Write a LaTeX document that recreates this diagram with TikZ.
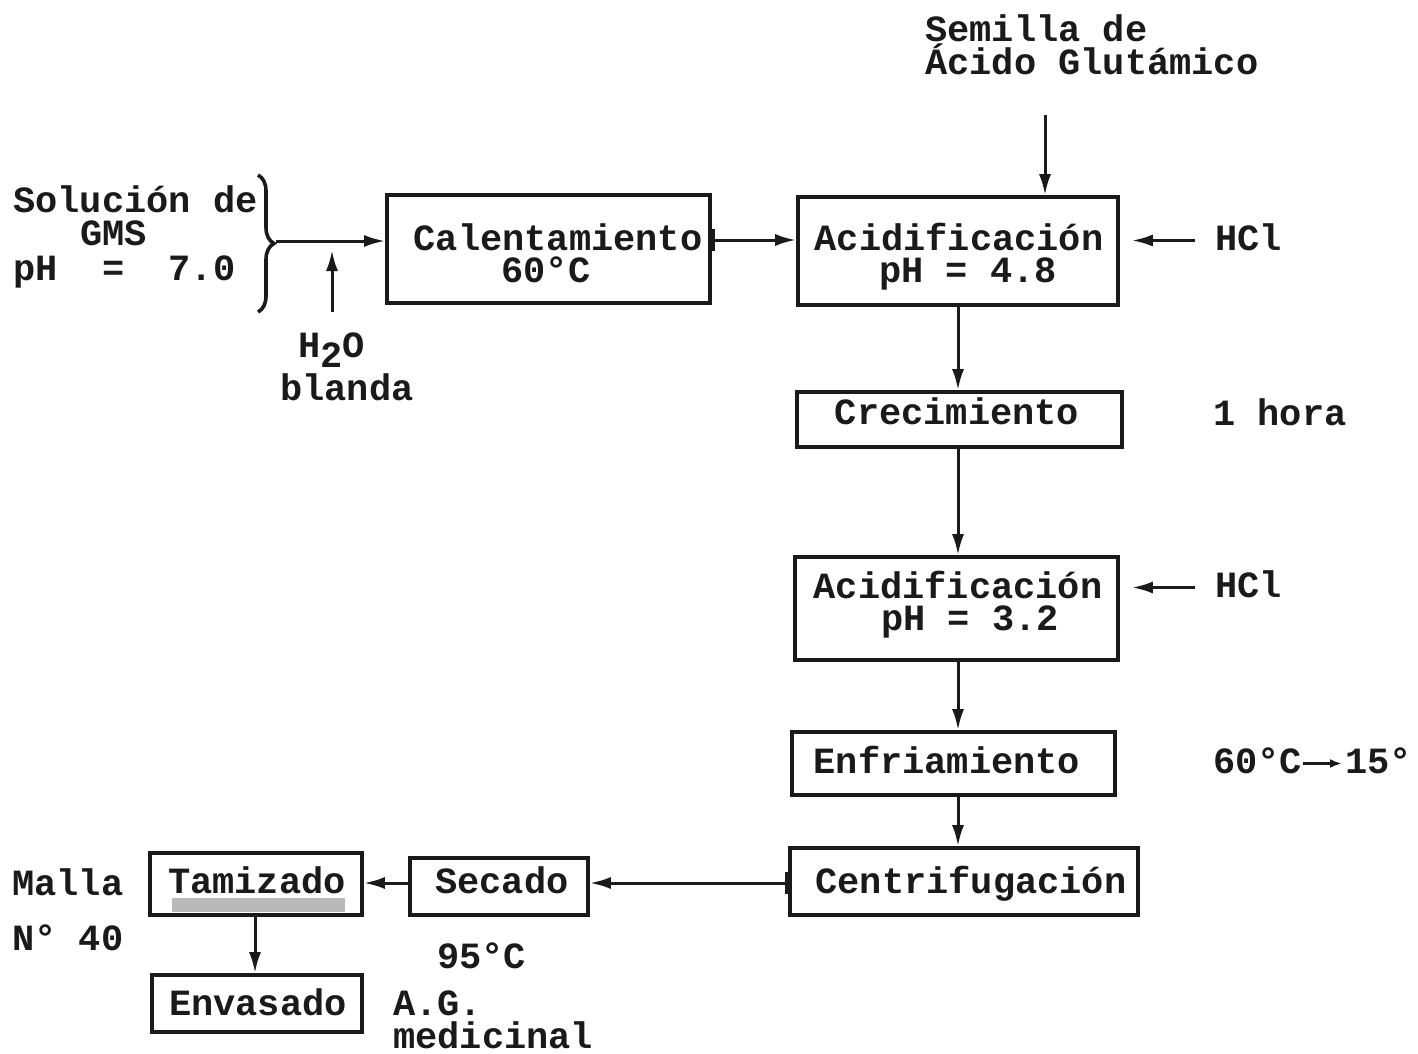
\documentclass[tikz,border=0pt]{standalone}
\usepackage{fontspec}
\setmainfont{Liberation Mono}
\usetikzlibrary{arrows.meta,decorations.pathreplacing}
\definecolor{ink}{HTML}{1A1A1A}
\newcommand\typed{\fontsize{37}{32}\selectfont\bfseries}
\begin{document}
\begin{tikzpicture}[x=1pt,y=-1pt,
  every node/.style={inner sep=0pt, text=ink, font=\typed},
  box/.style={draw=ink, line width=3.6pt},
  txt/.style={anchor=base, text height=24pt, text depth=5pt},
  lft/.style={anchor=base west, text height=24pt, text depth=5pt},
  flow/.style={draw=ink, line width=3pt, -{Latex[length=21pt,width=12pt]}},
  tickflow/.style={draw=ink, line width=3pt, {Bar[width=22pt,line width=3pt]}-{Latex[length=21pt,width=12pt]}},
  smallflow/.style={draw=ink, line width=2.6pt, -{Latex[length=12pt,width=9pt]}},
]
\fill[white] (0,0) rectangle (1418,1054);
\useasboundingbox (0,0) rectangle (1418,1054);

% process boxes
\node[box, minimum width=323pt, minimum height=108pt] (cal) at (548.5,249) {};
\node[box, minimum width=320pt, minimum height=108pt] (ac1) at (958,251) {};
\node[box, minimum width=325pt, minimum height=55pt] (cre) at (959.5,419.5) {};
\node[box, minimum width=323pt, minimum height=103pt] (ac2) at (956.5,608.5) {};
\node[box, minimum width=323pt, minimum height=63pt] (enf) at (953.5,763.5) {};
\node[box, minimum width=348pt, minimum height=67pt] (cen) at (964,881.5) {};
\node[box, minimum width=178pt, minimum height=57pt] (sec) at (499,886.5) {};
\node[box, minimum width=212pt, minimum height=62pt] (tam) at (256,884) {};
\node[box, minimum width=210pt, minimum height=57pt] (env) at (257,1003.5) {};

% grey correction strip under the sieving label
\fill[gray!55] (172,898) rectangle (345,912);

% box texts
\node[txt] (cal1) at (558,250) {Calentamiento};
\node[txt] (cal2) at (546,282) {60°C};
\node[txt] (ac11) at (959,250) {Acidificación};
\node[txt] (ac12) at (968,282) {pH = 4.8};
\node[txt] (cre1) at (957,424) {Crecimiento};
\node[txt] (ac21) at (958,598) {Acidificación};
\node[txt] (ac22) at (970,630) {pH = 3.2};
\node[txt] (enf1) at (947,773) {Enfriamiento};
\node[txt] (cen1) at (971,893) {Centrifugación};
\node[txt] (sec1) at (502,893) {Secado};
\node[txt] (tam1) at (257,893) {Tamizado};
\node[txt] (env1) at (258,1015) {Envasado};

% side labels
\node[lft] (sem1) at (925,42) {Semilla de};
\node[lft] (sem2) at (925,75) {Ácido Glutámico};
\node[lft] (sol1) at (13,212) {Solución de};
\node[lft] (sol2) at (80,245) {GMS};
\node[lft] (sol3) at (13,280) {pH\ \ =\ \ 7.0};
\node[lft] (agua1) at (298,357) {H\raisebox{-10pt}{2}O};
\node[lft] (agua2) at (280,400) {blanda};
\node[lft] (hcl1) at (1215,250) {HCl};
\node[lft] (hcl2) at (1215,597) {HCl};
\node[lft] (hora) at (1213,425) {1 hora};
\node[lft] (t60) at (1213,773) {60°C};
\node[lft] (t15) at (1345,773) {15°};
\node[lft] (malla) at (12,895) {Malla};
\node[lft] (num) at (12,950) {N° 40};
\node[lft] (temp) at (437,968) {95°C};
\node[lft] (ag1) at (393,1015) {A.G.};
\node[lft] (ag2) at (393,1048) {medicinal};

% feed brace and inlet streams
\coordinate (braceTop) at (258,175);
\coordinate (braceBot) at (258,312);
\draw[ink, line width=3.6pt, decorate, decoration={brace, amplitude=16pt}] (braceTop) -- (braceBot);
\coordinate (feed) at (276,241);
\draw[flow] (feed) -- (feed -| cal.west);
\coordinate (aguaTail) at (332,312);
\coordinate (aguaTip) at (332,250);
\draw[flow] (aguaTail) -- (aguaTip);

\coordinate (row1) at (0,240);
\draw[tickflow] (cal.east |- row1) -- (ac1.west |- row1);
\coordinate (semTail) at (1045,115);
\draw[flow] (semTail) -- (semTail |- ac1.north);
\draw[flow, shorten <=20pt, shorten >=12pt] (hcl1.west) -- (ac1.east |- hcl1.west);
\draw[flow, shorten <=20pt, shorten >=12pt] (hcl2.west) -- (ac2.east |- hcl2.west);

% main vertical line
\coordinate (spine) at (958,0);
\draw[flow] (ac1.south -| spine) -- (cre.north -| spine);
\draw[flow] (cre.south -| spine) -- (ac2.north -| spine);
\draw[flow] (ac2.south -| spine) -- (enf.north -| spine);
\draw[flow] (enf.south -| spine) -- (cen.north -| spine);

% bottom row
\coordinate (row7) at (0,883);
\draw[tickflow] (cen.west |- row7) -- (sec.east |- row7);
\draw[flow] (sec.west |- row7) -- (tam.east |- row7);
\coordinate (col) at (255,0);
\draw[flow] (tam.south -| col) -- (env.north -| col);

% cooling range
\draw[smallflow, shorten >=3pt, shorten <=1pt] (t60.east) -- (t15.west);
\end{tikzpicture}
\end{document}
